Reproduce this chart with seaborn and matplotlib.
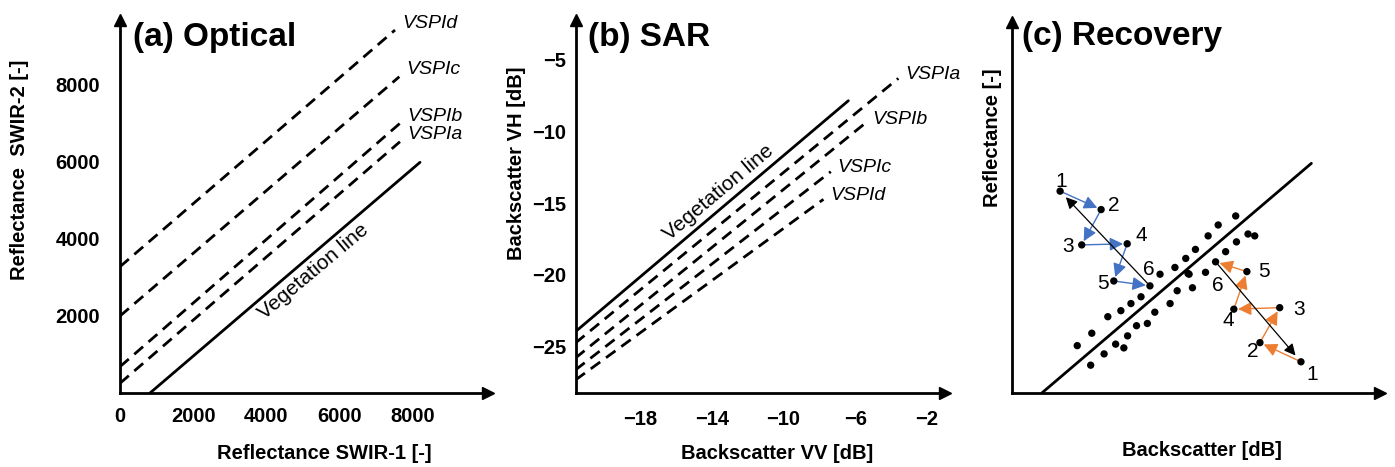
import matplotlib
matplotlib.use("Agg")
import matplotlib.pyplot as plt
import numpy as np
import pandas as pd
import seaborn as sns

# ---------------- data ----------------
# (a) Optical : straight lines given by start / end points (SWIR-1, SWIR-2)
opt_names = ["Vegetation line", "VSPIa", "VSPIb", "VSPIc", "VSPId"]
opt_x_start = [820, 0, 0, 0, 0]
opt_y_start = [0, 252, 683, 1997, 3277]
opt_x_end = [8197, 7650, 7650, 7632, 7514]
opt_y_end = [5984, 6519, 6996, 8205, 9416]
opt_xticks = [0, 2000, 4000, 6000, 8000]
opt_yticks = [2000, 4000, 6000, 8000]

# (b) SAR : straight lines (VV, VH) in dB
sar_names = ["Vegetation line", "VSPIa", "VSPIb", "VSPIc", "VSPId"]
sar_x_start = [-21.6, -21.6, -21.6, -21.6, -21.6]
sar_y_start = [-23.96, -24.75, -25.8, -26.63, -27.33]
sar_x_end = [-6.38, -3.59, -5.45, -7.36, -7.77]
sar_y_end = [-7.85, -6.29, -9.43, -12.80, -14.73]
sar_xticks = [-18, -14, -10, -6, -2]
sar_yticks = [-25, -20, -15, -10, -5]

# (c) Recovery : schematic units
rec_line_x = [0.80, 8.03]
rec_line_y = [0.0, 6.11]
cloud_x = [1.75, 2.14, 2.11, 2.47, 2.57, 2.78, 3.00, 2.92, 3.10, 3.19, 3.34,
           3.46, 3.63, 3.83, 3.97, 4.24, 4.37, 4.43, 4.66, 4.75, 4.72, 4.84,
           4.92, 5.19, 5.26, 5.53, 5.73, 6.00, 6.02, 6.33, 6.51]
cloud_y = [1.26, 1.59, 0.74, 1.04, 2.03, 1.30, 1.20, 2.19, 1.52, 2.38, 1.79,
           2.56, 1.85, 2.15, 3.16, 2.38, 3.34, 2.72, 3.58, 3.16, 3.18, 2.80,
           3.82, 3.21, 4.18, 4.47, 3.76, 4.71, 4.02, 4.23, 4.18]
blue_x = [1.29, 2.39, 1.87, 3.09, 2.73, 3.70]
blue_y = [5.37, 4.88, 3.94, 3.97, 2.98, 2.85]
orange_x = [7.75, 6.65, 7.18, 5.95, 6.30, 5.46]
orange_y = [0.83, 1.34, 2.27, 2.23, 3.23, 3.49]
step_labels = ["1", "2", "3", "4", "5", "6"]

# ---------------- style ----------------
sns.set_theme(style="white", rc={
    "axes.edgecolor": "black", "text.color": "black",
    "xtick.color": "black", "ytick.color": "black",
    "axes.labelcolor": "black", "axes.linewidth": 2.0,
})
plt.rcParams["font.family"] = ["Liberation Sans", "DejaVu Sans"]

W, H = 1395, 467
fig = plt.figure(figsize=(W / 100, H / 100), dpi=100)


def add_axes_px(left, right, bottom, top):
    return fig.add_axes([left / W, (H - bottom) / H, (right - left) / W, (bottom - top) / H])


def arrow_axes(ax):
    sns.despine(ax=ax)
    for s in ("left", "bottom"):
        ax.spines[s].set_linewidth(2.0)
        ax.spines[s].set_color("black")
    ax.plot(1, 0, marker=">", color="black", ms=8, transform=ax.transAxes,
            clip_on=False, zorder=10)
    ax.plot(0, 1, marker="^", color="black", ms=8, transform=ax.transAxes,
            clip_on=False, zorder=10)


def bold_ticks(ax, size=14.5):
    for lbl in ax.get_xticklabels() + ax.get_yticklabels():
        lbl.set_fontweight("bold")
        lbl.set_fontsize(size)


DASH = (0, (4.2, 2.6))
LW = 2.0

# ================= (a) Optical =================
ax1 = add_axes_px(120, 488, 393, 20)
for i, name in enumerate(opt_names):
    ls = "-" if i == 0 else DASH
    sns.lineplot(x=[opt_x_start[i], opt_x_end[i]], y=[opt_y_start[i], opt_y_end[i]],
                 ax=ax1, color="black", lw=LW, linestyle=ls, legend=False)
    if i > 0:
        ax1.annotate(name, xy=(opt_x_end[i], opt_y_end[i]), xytext=(5, 5),
                     textcoords="offset points", ha="left", va="center",
                     fontsize=14, style="italic")
t = 0.605
ax1.annotate(opt_names[0],
             xy=(opt_x_start[0] + t * (opt_x_end[0] - opt_x_start[0]),
                 opt_y_start[0] + t * (opt_y_end[0] - opt_y_start[0])),
             xytext=(0, -13), textcoords="offset points", ha="center", va="center",
             rotation=40, rotation_mode="anchor", fontsize=15)
ax1.set_xlim(0, 10055)
ax1.set_ylim(0, 9676)
ax1.set_xticks(opt_xticks)
ax1.set_yticks(opt_yticks)
ax1.tick_params(axis="x", direction="in", length=4.5, width=1.5, pad=10)
ax1.tick_params(axis="y", direction="out", length=4, width=1.5, pad=10.5)
bold_ticks(ax1)
arrow_axes(ax1)
ax1.set_xlabel("Reflectance SWIR-1 [-]", fontsize=14.5, fontweight="bold", va="center")
ax1.xaxis.set_label_coords(0.554, -0.161)
ax1.set_ylabel("Reflectance  SWIR-2 [-]", fontsize=14.5, fontweight="bold", va="center")
ax1.yaxis.set_label_coords(-0.272, 0.598)
ax1.text(0.035, 0.954, "(a) Optical", transform=ax1.transAxes, ha="left", va="center",
         fontsize=24, fontweight="bold")

# ================= (b) SAR =================
ax2 = add_axes_px(576, 945, 393, 20)
for i, name in enumerate(sar_names):
    ls = "-" if i == 0 else DASH
    sns.lineplot(x=[sar_x_start[i], sar_x_end[i]], y=[sar_y_start[i], sar_y_end[i]],
                 ax=ax2, color="black", lw=LW, linestyle=ls, legend=False)
    if i > 0:
        ax2.annotate(name, xy=(sar_x_end[i], sar_y_end[i]), xytext=(5, 3),
                     textcoords="offset points", ha="left", va="center",
                     fontsize=14, style="italic")
t = 0.523
ax2.annotate(sar_names[0],
             xy=(sar_x_start[0] + t * (sar_x_end[0] - sar_x_start[0]),
                 sar_y_start[0] + t * (sar_y_end[0] - sar_y_start[0])),
             xytext=(0, 13), textcoords="offset points", ha="center", va="center",
             rotation=40, rotation_mode="anchor", fontsize=15)
ax2.set_xlim(-21.57, -0.99)
ax2.set_ylim(-28.24, -2.22)
ax2.set_xticks(sar_xticks)
ax2.set_yticks(sar_yticks)
ax2.tick_params(axis="x", direction="inout", length=7, width=1.5, pad=8.5)
ax2.tick_params(axis="y", direction="out", length=4, width=1.5, pad=3)
bold_ticks(ax2)
arrow_axes(ax2)
ax2.set_xlabel("Backscatter VV [dB]", fontsize=14.5, fontweight="bold", va="center")
ax2.xaxis.set_label_coords(0.545, -0.161)
ax2.set_ylabel("Backscatter VH [dB]", fontsize=14.5, fontweight="bold", va="center")
ax2.yaxis.set_label_coords(-0.160, 0.617)
ax2.text(0.033, 0.954, "(b) SAR", transform=ax2.transAxes, ha="left", va="center",
         fontsize=24, fontweight="bold")

# ================= (c) Recovery =================
ax3 = add_axes_px(1012, 1380, 393, 22)
sns.lineplot(x=rec_line_x, y=rec_line_y, ax=ax3, color="black", lw=LW, legend=False)
for xs, ys in ((cloud_x, cloud_y), (blue_x, blue_y), (orange_x, orange_y)):
    sns.scatterplot(x=xs, y=ys, ax=ax3, color="black", s=28,
                    edgecolor="none", legend=False, zorder=5)

BLUE = "#4472C4"
ORANGE = "#ED7D31"
for xs, ys, col in ((blue_x, blue_y, BLUE), (orange_x, orange_y, ORANGE)):
    for k in range(len(xs) - 1):
        ax3.annotate("", xy=(xs[k + 1], ys[k + 1]), xytext=(xs[k], ys[k]),
                     arrowprops=dict(arrowstyle="-|>", color=col, lw=1.0,
                                     mutation_scale=20, shrinkA=1, shrinkB=3))
    ax3.annotate("", xy=(xs[0], ys[0]), xytext=(xs[-1], ys[-1]),
                 arrowprops=dict(arrowstyle="-|>", color="black", lw=0.9,
                                 mutation_scale=17, shrinkA=2, shrinkB=6))

blue_offsets = [(1, 7), (9, 3), (-10, -1.5), (10, 6), (-8, -2), (-1, 12)]
orange_offsets = [(8, -9.5), (-5, -6.5), (14, -1.5), (-4, -8.5), (12.5, 0), (1.5, -17)]
for xs, ys, offs in ((blue_x, blue_y, blue_offsets), (orange_x, orange_y, orange_offsets)):
    for k, lab in enumerate(step_labels):
        ax3.annotate(lab, xy=(xs[k], ys[k]), xytext=offs[k], textcoords="offset points",
                     ha="center", va="center", fontsize=15)

ax3.set_xlim(0, 9.87)
ax3.set_ylim(0, 9.87)
ax3.set_xticks([])
ax3.set_yticks([])
arrow_axes(ax3)
ax3.set_xlabel("Backscatter [dB]", fontsize=14.5, fontweight="bold", va="center")
ax3.xaxis.set_label_coords(0.516, -0.156)
ax3.set_ylabel("Reflectance [-]", fontsize=14.5, fontweight="bold", va="center")
ax3.yaxis.set_label_coords(-0.054, 0.687)
ax3.text(0.027, 0.960, "(c) Recovery", transform=ax3.transAxes, ha="left", va="center",
         fontsize=24, fontweight="bold")

fig.savefig("out.png", dpi=100)
